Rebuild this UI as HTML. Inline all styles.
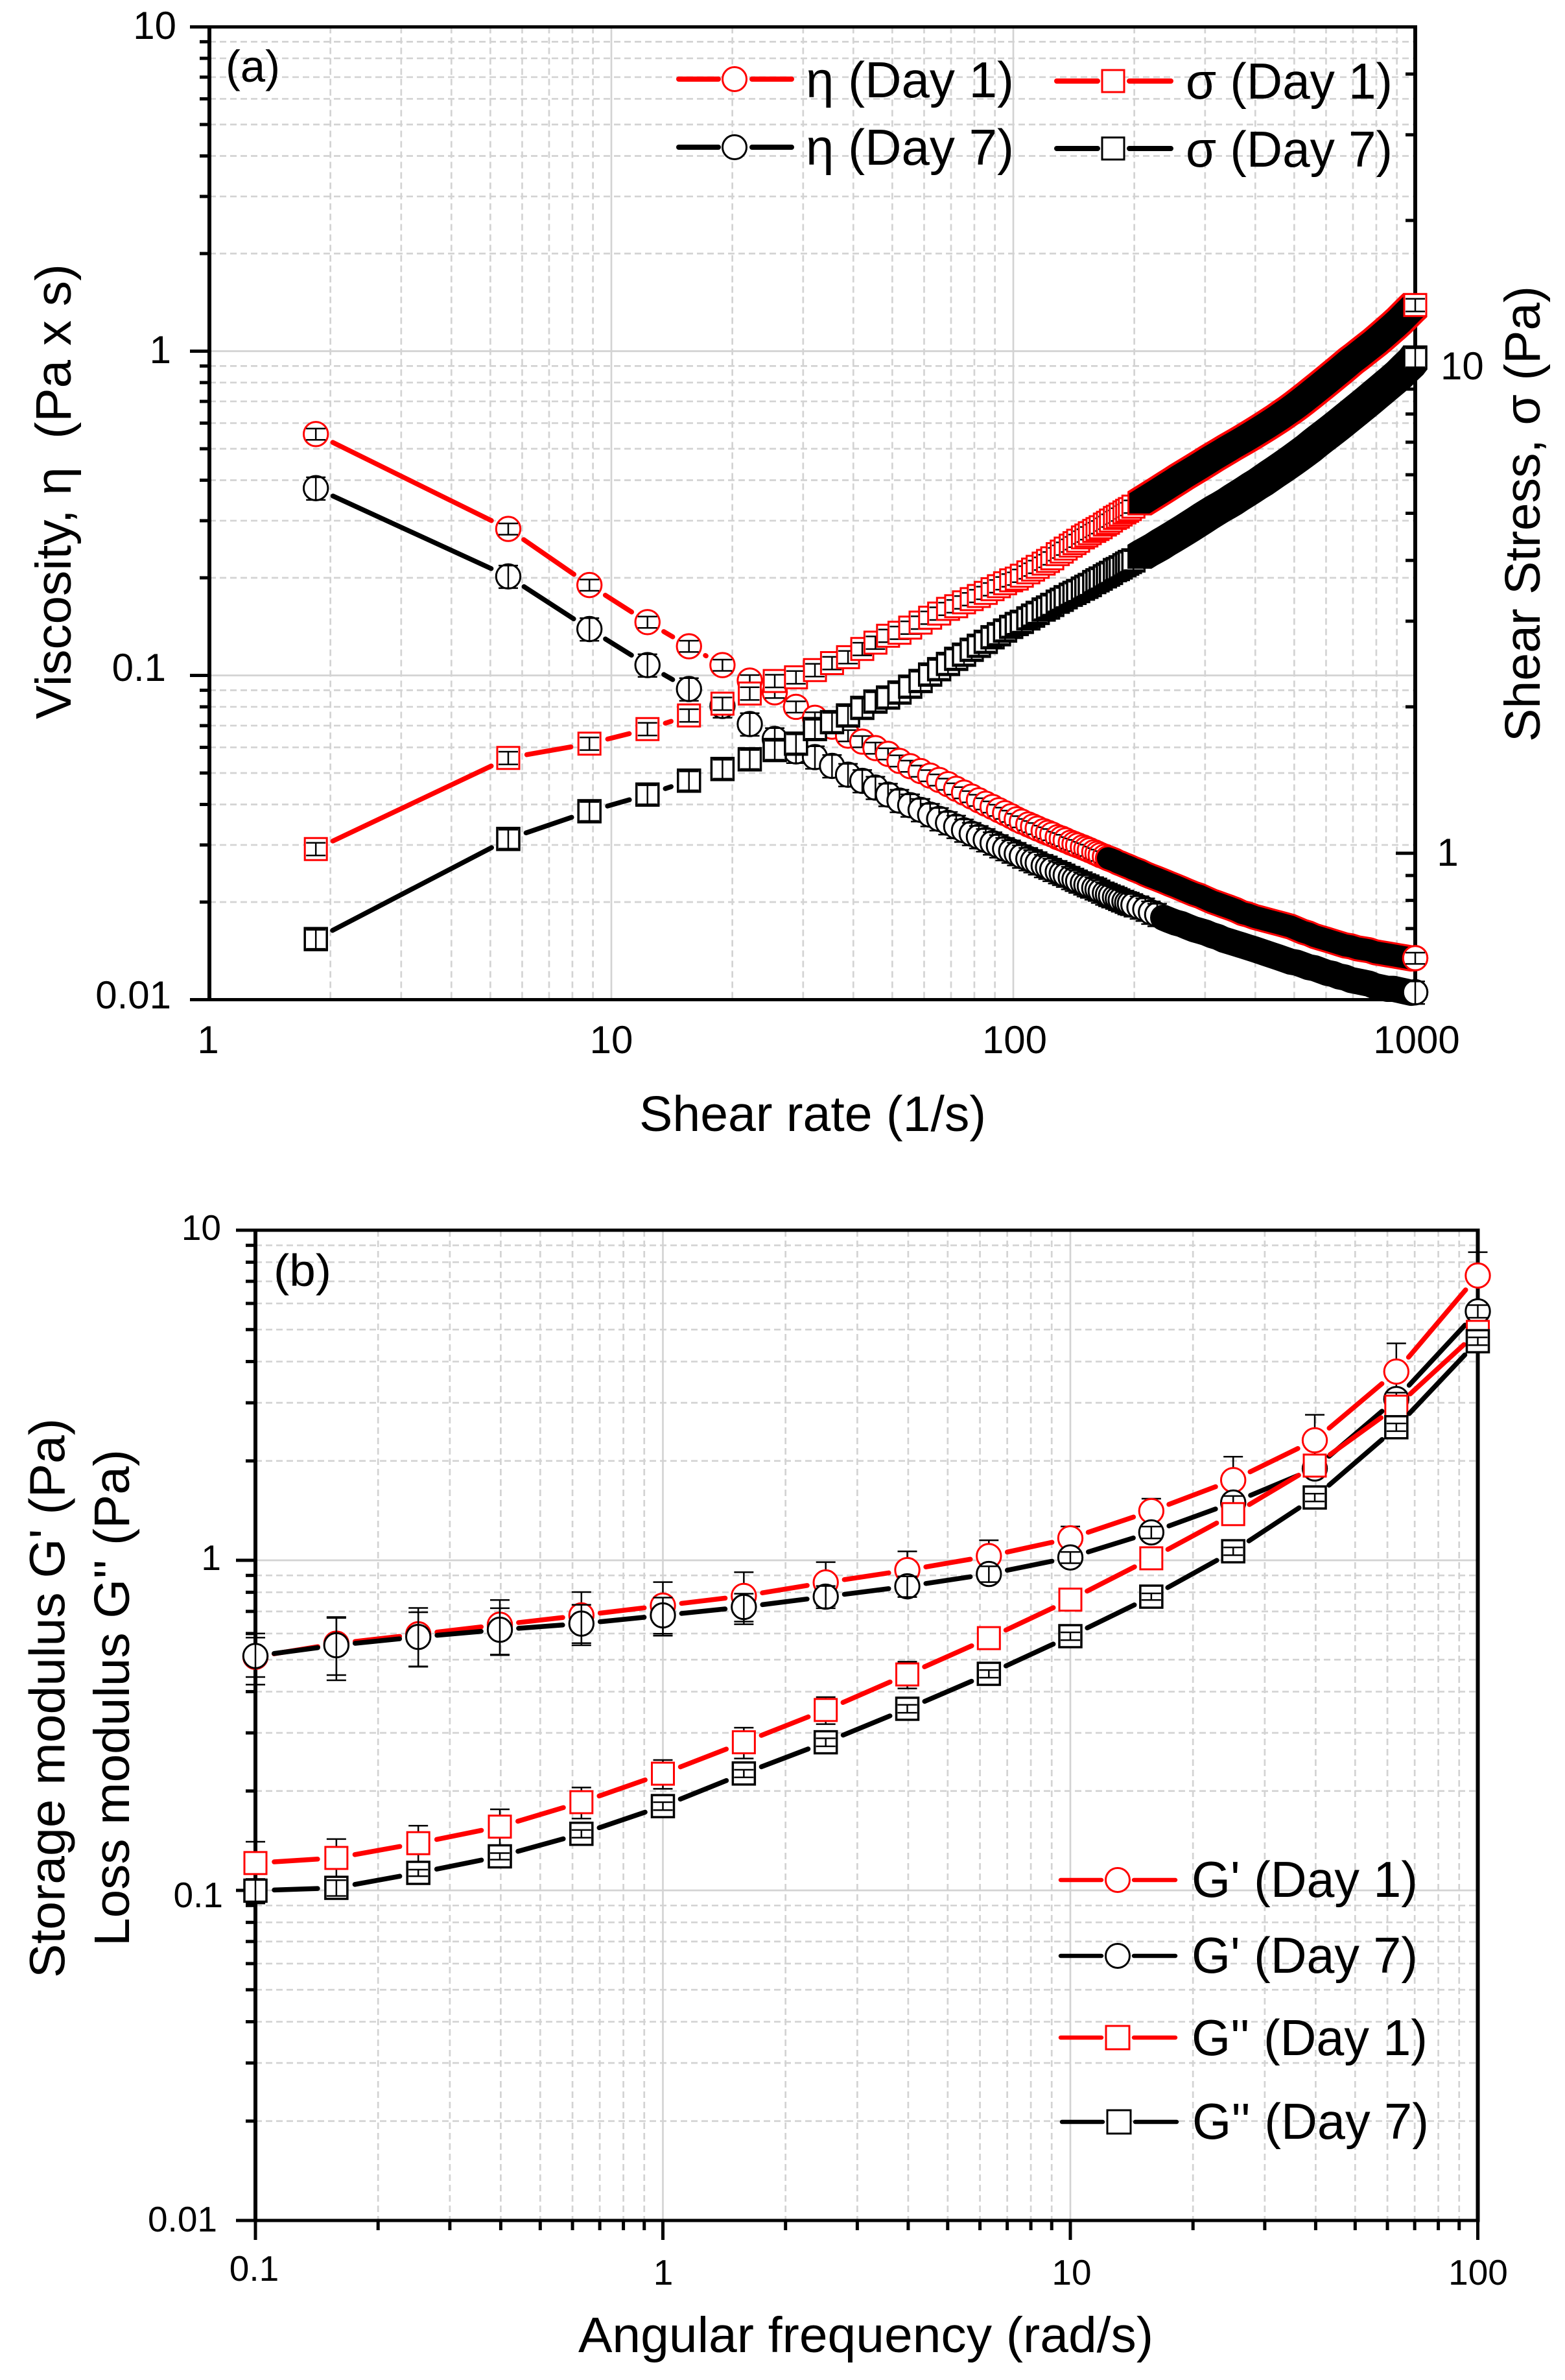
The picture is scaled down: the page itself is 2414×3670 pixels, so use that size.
<!DOCTYPE html>
<html lang="en">
<head>
<meta charset="utf-8">
<title>Rheology charts</title>
<style>
html,body{margin:0;padding:0;background:#fff}
svg{display:block}
text{font-family:"Liberation Sans",Arial,sans-serif;fill:#000}
</style>
</head>
<body>
<svg id="fig" xmlns="http://www.w3.org/2000/svg" width="2414" height="3670" viewBox="0 0 2414 3670">
  <rect x="0" y="0" width="2414" height="3670" fill="#fff"/>
  <g id="panelA">
    <g id="gridA"></g>
    <g id="axesA"></g>
    <g id="marksA"></g>
  </g>
  <g id="panelB">
    <g id="gridB"></g>
    <g id="axesB"></g>
    <g id="marksB"></g>
  </g>

  <!-- panel a text -->
  <g>
    <text x="272" y="60" font-size="60" text-anchor="end">10</text>
    <text x="264" y="560" font-size="60" text-anchor="end">1</text>
    <text x="256" y="1050" font-size="60" text-anchor="end">0.1</text>
    <text x="264" y="1555" font-size="60" text-anchor="end">0.01</text>
    <text x="321" y="1624" font-size="60" text-anchor="middle">1</text>
    <text x="943" y="1624" font-size="60" text-anchor="middle">10</text>
    <text x="1565" y="1624" font-size="60" text-anchor="middle">100</text>
    <text x="2185" y="1624" font-size="60" text-anchor="middle">1000</text>
    <text x="2222" y="585" font-size="60">10</text>
    <text x="2233" y="1335" font-size="60" text-anchor="middle">1</text>
    <text x="986" y="1744" font-size="77" textLength="535" lengthAdjust="spacingAndGlyphs">Shear rate (1/s)</text>
    <text transform="translate(109 1109) rotate(-90)" font-size="77" textLength="702" lengthAdjust="spacingAndGlyphs">Viscosity, η &#160;(Pa x s)</text>
    <text transform="translate(2375 1144) rotate(-90)" font-size="77" textLength="703" lengthAdjust="spacingAndGlyphs">Shear Stress, σ (Pa)</text>
    <text x="348" y="126" font-size="69" textLength="84" lengthAdjust="spacingAndGlyphs">(a)</text>
  </g>

  <!-- panel a legend -->
  <g>
    <g>
      <line x1="1047" x2="1108" y1="122" y2="122" stroke="#f00" stroke-width="8" stroke-linecap="round"/>
      <line x1="1160" x2="1221" y1="122" y2="122" stroke="#f00" stroke-width="8" stroke-linecap="round"/>
      <circle cx="1133" cy="122" r="18.5" fill="#fff" stroke="#f00" stroke-width="3"/>
      <text x="1243" y="150" font-size="78" textLength="321" lengthAdjust="spacingAndGlyphs">η (Day 1)</text>
    </g>
    <g>
      <line x1="1047" x2="1108" y1="227" y2="227" stroke="#000" stroke-width="8" stroke-linecap="round"/>
      <line x1="1160" x2="1221" y1="227" y2="227" stroke="#000" stroke-width="8" stroke-linecap="round"/>
      <circle cx="1133" cy="227" r="18.5" fill="#fff" stroke="#000" stroke-width="3"/>
      <text x="1243" y="254" font-size="78" textLength="321" lengthAdjust="spacingAndGlyphs">η (Day 7)</text>
    </g>
    <g>
      <line x1="1630" x2="1693" y1="125" y2="125" stroke="#f00" stroke-width="8" stroke-linecap="round"/>
      <line x1="1742" x2="1806" y1="125" y2="125" stroke="#f00" stroke-width="8" stroke-linecap="round"/>
      <rect x="1700" y="108" width="34" height="34" fill="#fff" stroke="#f00" stroke-width="3"/>
      <text x="1829" y="152" font-size="78" textLength="319" lengthAdjust="spacingAndGlyphs">σ (Day 1)</text>
    </g>
    <g>
      <line x1="1630" x2="1693" y1="229" y2="229" stroke="#000" stroke-width="8" stroke-linecap="round"/>
      <line x1="1742" x2="1806" y1="229" y2="229" stroke="#000" stroke-width="8" stroke-linecap="round"/>
      <rect x="1700" y="212" width="34" height="34" fill="#fff" stroke="#000" stroke-width="3"/>
      <text x="1829" y="257" font-size="78" textLength="319" lengthAdjust="spacingAndGlyphs">σ (Day 7)</text>
    </g>
  </g>

  <!-- panel b text -->
  <g>
    <text x="341" y="1912" font-size="55" text-anchor="end">10</text>
    <text x="341" y="2421" font-size="55" text-anchor="end">1</text>
    <text x="344" y="2941" font-size="55" text-anchor="end">0.1</text>
    <text x="335" y="3441" font-size="55" text-anchor="end">0.01</text>
    <text x="392" y="3517" font-size="55" text-anchor="middle">0.1</text>
    <text x="1023" y="3523" font-size="55" text-anchor="middle">1</text>
    <text x="1653" y="3523" font-size="55" text-anchor="middle">10</text>
    <text x="2280" y="3523" font-size="55" text-anchor="middle">100</text>
    <text x="892" y="3627" font-size="77" textLength="887" lengthAdjust="spacingAndGlyphs">Angular frequency (rad/s)</text>
    <text transform="translate(99.5 3050) rotate(-90)" font-size="77" textLength="863" lengthAdjust="spacingAndGlyphs">Storage modulus G' (Pa)</text>
    <text transform="translate(199 3001) rotate(-90)" font-size="77" textLength="766" lengthAdjust="spacingAndGlyphs">Loss modulus G'' (Pa)</text>
    <text x="422" y="1983" font-size="70" textLength="89" lengthAdjust="spacingAndGlyphs">(b)</text>
  </g>

  <!-- panel b legend -->
  <g>
    <g>
      <line x1="1636" x2="1699" y1="2899" y2="2899" stroke="#f00" stroke-width="6.5" stroke-linecap="round"/>
      <line x1="1749" x2="1813" y1="2899" y2="2899" stroke="#f00" stroke-width="6.5" stroke-linecap="round"/>
      <circle cx="1724" cy="2899" r="18.5" fill="#fff" stroke="#f00" stroke-width="3"/>
      <text x="1838" y="2925" font-size="78" textLength="349" lengthAdjust="spacingAndGlyphs">G' (Day 1)</text>
    </g>
    <g>
      <line x1="1636" x2="1699" y1="3016" y2="3016" stroke="#000" stroke-width="6.5" stroke-linecap="round"/>
      <line x1="1749" x2="1813" y1="3016" y2="3016" stroke="#000" stroke-width="6.5" stroke-linecap="round"/>
      <circle cx="1724" cy="3016" r="18.5" fill="#fff" stroke="#000" stroke-width="3"/>
      <text x="1838" y="3042" font-size="78" textLength="349" lengthAdjust="spacingAndGlyphs">G' (Day 7)</text>
    </g>
    <g>
      <line x1="1636" x2="1699" y1="3142" y2="3142" stroke="#f00" stroke-width="6.5" stroke-linecap="round"/>
      <line x1="1749" x2="1813" y1="3142" y2="3142" stroke="#f00" stroke-width="6.5" stroke-linecap="round"/>
      <rect x="1706" y="3124" width="36" height="36" fill="#fff" stroke="#f00" stroke-width="3"/>
      <text x="1838" y="3169" font-size="78" textLength="364" lengthAdjust="spacingAndGlyphs">G'' (Day 1)</text>
    </g>
    <g>
      <line x1="1638" x2="1701" y1="3272" y2="3272" stroke="#000" stroke-width="6.5" stroke-linecap="round"/>
      <line x1="1751" x2="1815" y1="3272" y2="3272" stroke="#000" stroke-width="6.5" stroke-linecap="round"/>
      <rect x="1708" y="3254" width="36" height="36" fill="#fff" stroke="#000" stroke-width="3"/>
      <text x="1839" y="3298" font-size="78" textLength="365" lengthAdjust="spacingAndGlyphs">G'' (Day 7)</text>
    </g>
  </g>
</svg>

<script>
// ---- Panel (a) data: shear rate (1/s), viscosity (Pa s), shear stress (Pa) ----
const shearRate = [
1.84,5.54,8.82,12.3,15.6,18.9,22.1,25.5,28.8,32.1,
35.4,38.8,42.1,45.4,48.8,52.1,55.4,58.8,62.1,65.4,
68.8,72.1,75.4,78.8,82.1,85.4,88.8,92.1,95.4,98.8,
102,105,109,112,115,119,122,125,129,132,
135,139,142,145,149,152,155,159,162,165,
169,172,175,179,182,185,189,192,195,199,
206,213,220,228,236,244,253,262,271,281,
291,301,312,323,334,346,358,371,384,398,
412,426,441,457,473,490,507,525,543,562,
582,603,624,646,669,692,717,742,768,795,
823,852,882,913,945,978,1000];
const etaDay1 = [
.555,.283,.19,.146,.123,.1076,.0964,.0887,.08,.074,
.0695,.0652,.0625,.0597,.0573,.0545,.0525,.0507,.0491,.0476,
.0462,.0447,.0435,.0423,.0412,.0402,.0393,.0384,.0376,.0368,
.036,.0354,.0347,.0342,.0337,.0331,.0327,.0323,.0317,.0314,
.031,.0305,.0302,.0299,.0295,.0292,.0289,.0285,.0282,.0279,
.0276,.0273,.0271,.0268,.0265,.0263,.026,.0258,.0256,.0253,
.0249,.0244,.024,.0236,.0232,.0228,.0224,.022,.0216,.0212,
.0209,.0205,.0201,.0198,.0195,.0192,.0189,.0185,.0183,.018,
.0178,.0176,.0174,.0172,.017,.0168,.0165,.0162,.016,.0157,
.0155,.0153,.0151,.0149,.0147,.0146,.0144,.0143,.0142,.014,
.0139,.0138,.0137,.0136,.0135,.0134,.01343];
const etaDay7 = [
.378,.202,.139,.1076,.0908,.0805,.0708,.0637,.0583,.056,
.0526,.0494,.0473,.0451,.0429,.0411,.0398,.0385,.0372,.0361,
.0351,.0342,.0333,.0325,.0318,.0311,.0304,.0298,.0292,.0287,
.0282,.0277,.0272,.0268,.0264,.0259,.0256,.0252,.0248,.0245,
.0242,.0238,.0235,.0232,.0229,.0226,.0224,.0221,.0219,.0216,
.0213,.0211,.0209,.0207,.0205,.0203,.0201,.0199,.0198,.0196,
.0193,.019,.0186,.0183,.0179,.0176,.0173,.0171,.0168,.0165,
.0163,.0161,.0158,.0156,.0153,.0151,.0149,.0147,.0145,.0143,
.0141,.0139,.0137,.0135,.0133,.0131,.013,.0128,.0126,.0125,
.0123,.0121,.012,.0118,.0117,.0115,.0114,.0113,.0112,.011,
.0109,.0108,.0108,.0107,.0106,.0105,.01054];
const sigmaDay1 = [
1.02,1.57,1.68,1.8,1.92,2.03,2.13,2.26,2.3,2.38,
2.46,2.53,2.63,2.71,2.8,2.84,2.91,2.98,3.05,3.11,
3.18,3.22,3.28,3.33,3.38,3.43,3.49,3.54,3.59,3.64,
3.67,3.72,3.78,3.83,3.88,3.94,3.99,4.04,4.12,4.17,
4.23,4.29,4.34,4.39,4.46,4.5,4.55,4.6,4.64,4.68,
4.74,4.78,4.83,4.89,4.92,4.97,5.02,5.06,5.1,5.16,
5.24,5.33,5.42,5.52,5.62,5.72,5.83,5.94,6.04,6.15,
6.26,6.37,6.49,6.6,6.71,6.83,6.94,7.06,7.18,7.31,
7.44,7.57,7.71,7.86,8.02,8.18,8.35,8.54,8.73,8.93,
9.14,9.36,9.58,9.81,10.05,10.29,10.52,10.76,11,11.25,
11.53,11.82,12.12,12.44,12.8,13.17,13.4];
const sigmaDay7 = [
.666,1.07,1.22,1.32,1.41,1.49,1.56,1.63,1.68,1.8,
1.86,1.92,1.99,2.05,2.09,2.14,2.2,2.26,2.33,2.39,
2.45,2.51,2.56,2.62,2.67,2.72,2.78,2.82,2.87,2.92,
2.96,2.99,3.04,3.08,3.12,3.17,3.2,3.24,3.29,3.32,
3.36,3.4,3.43,3.46,3.5,3.53,3.56,3.61,3.64,3.67,
3.71,3.74,3.77,3.82,3.84,3.87,3.91,3.94,3.97,4,
4.07,4.14,4.2,4.27,4.35,4.42,4.5,4.58,4.66,4.75,
4.84,4.93,5.02,5.11,5.19,5.28,5.38,5.48,5.58,5.69,
5.79,5.9,6.02,6.14,6.26,6.39,6.52,6.66,6.8,6.96,
7.12,7.28,7.44,7.61,7.79,7.97,8.16,8.35,8.55,8.76,
8.97,9.19,9.41,9.65,9.93,10.2,10.45];
const etaDay1ErrFraction = 0.04;
const etaDay7ErrFraction = 0.08;
const sigmaDay1ErrFraction = 0.03;
const sigmaDay7ErrFraction = 0.045;

// ---- Panel (b) data: angular frequency (rad/s), moduli (Pa) ----
const angularFrequency = [0.1,0.158,0.251,0.398,0.631,1,1.58,2.51,3.98,6.31,10,15.8,25.1,39.8,63.1,100];
const storageDay1 = [.51,.559,.597,.638,.681,.729,.78,.857,.934,1.03,1.166,1.41,1.75,2.31,3.73,7.29];
const storageDay7 = [.513,.553,.586,.616,.643,.681,.722,.776,.834,.909,1.02,1.215,1.496,1.897,3.08,5.68];
const lossDay1 = [.121,.1254,.139,.156,.185,.2257,.281,.352,.451,.581,.76,1.014,1.38,1.936,2.92,4.92];
const lossDay7 = [.0998,.1018,.113,.1268,.1484,.18,.226,.281,.355,.453,.589,.776,1.065,1.55,2.53,4.61];
const storageDay1Err = [.09,.11,.12,.12,.12,.13,.14,.13,.13,.12,.1,.127,.31,.45,.81,1.29];
const storageDay7Err = [.07,.12,.11,.1,.09,.09,.07,.06,.06,.05,.04,.05,.07,.09,.14,.25];
const lossDay1Err = [.0194,.0176,.018,.02,.02,.0226,.03,.033,.042,.04,.05,.06,.08,.1,.1,.15];
const lossDay7Err = [.0085,.0056,.0026,.0029,.004,.005,.006,.0078,.0098,.012,.016,.018,.029,.042,.068,.125];

// ---- axis functions ----
const xA = v => 323 + 620 * Math.log10(v);
const yLeftA = v => 541.5 - 500 * Math.log10(v);
const yRightA = v => 1315.7 - 750 * Math.log10(v);
const xB = v => 394 + 628.5 * (Math.log10(v) + 1);
const yB = v => 2406 - 509 * Math.log10(v);

const NS = 'http://www.w3.org/2000/svg';
const GRID = '#d3d3d3';

function gridLine(parent, x1, y1, x2, y2, major) {
  const el = document.createElementNS(NS, 'line');
  
  
  el.setAttribute('x1', x1); el.setAttribute('y1', y1);
  el.setAttribute('x2', x2); el.setAttribute('y2', y2);
  el.setAttribute('stroke', GRID);
  el.setAttribute('stroke-width', 2.7);
  if (!major) el.setAttribute('stroke-dasharray', '10 6');
  parent.appendChild(el);
}
function axisLine(parent, x1, y1, x2, y2, w) {
  const el = document.createElementNS(NS, 'line');
  
  
  el.setAttribute('x1', x1); el.setAttribute('y1', y1);
  el.setAttribute('x2', x2); el.setAttribute('y2', y2);
  el.setAttribute('stroke', '#000');
  el.setAttribute('stroke-width', w);
  parent.appendChild(el);
}
// every decade step between lo and hi: visits 1..9 x 10^k
function logSteps(lo, hi, fn) {
  for (let k = Math.round(Math.log10(lo)) - 1; k <= Math.round(Math.log10(hi)); k++) {
    for (let m = 1; m <= 9; m++) {
      const v = m * Math.pow(10, k);
      if (v >= lo * 0.999 && v <= hi * 1.001) fn(v, m === 1);
    }
  }
}

function segment(parent, s, p, q) {
  const dx = q[0] - p[0], dy = q[1] - p[1], d = Math.hypot(dx, dy), gap = 29;
  if (d <= gap * 2 + 1) return;
  const el = document.createElementNS(NS, 'line');
  
  
  el.setAttribute('x1', p[0] + dx / d * gap); el.setAttribute('y1', p[1] + dy / d * gap);
  el.setAttribute('x2', q[0] - dx / d * gap); el.setAttribute('y2', q[1] - dy / d * gap);
  el.setAttribute('stroke', s.color);
  el.setAttribute('stroke-width', 7.5);
  el.setAttribute('stroke-linecap', 'round');
  parent.appendChild(el);
}
function marker(parent, s, p) {
  const isCircle = s.shape === 'circle';
  const el = document.createElementNS(NS, isCircle ? 'circle' : 'rect');
  
  
  if (isCircle) {
    el.setAttribute('cx', p[0]); el.setAttribute('cy', p[1]);
    el.setAttribute('r', 18.7);
  } else {
    el.setAttribute('x', p[0] - 17); el.setAttribute('y', p[1] - 17);
    el.setAttribute('width', 34); el.setAttribute('height', 34);
  }
  el.setAttribute('fill', '#fff');
  el.setAttribute('stroke', s.color);
  el.setAttribute('stroke-width', s.shape === 'square' && s.color === '#000' ? 3.5 : 3);
  parent.appendChild(el);
}
function errorBar(parent, s, px, yTop, yBot) {
  const stem = document.createElementNS(NS, 'path');
  
  
  stem.setAttribute('d', 'M' + (px - 15) + ' ' + yTop + 'H' + (px + 15) + 'M' + px + ' ' + yTop + 'V' + yBot + 'M' + (px - 15) + ' ' + yBot + 'H' + (px + 15));
  stem.setAttribute('fill', 'none');
  stem.setAttribute('stroke', '#000');
  stem.setAttribute('stroke-width', 2.5);
  parent.appendChild(stem);
}
// overplotted stretch: hundreds of piled markers read as a solid band with a coloured rim
function band(parent, s, run, color, halfSize, role) {
  if (run.length < 2) return;
  if (s.shape === 'circle') {
    const el = document.createElementNS(NS, 'polyline');
    
    
    el.setAttribute('points', run.map(p => p[0] + ',' + p[1]).join(' '));
    el.setAttribute('fill', 'none');
    el.setAttribute('stroke', color);
    el.setAttribute('stroke-width', halfSize * 2);
    el.setAttribute('stroke-linecap', 'round');
    el.setAttribute('stroke-linejoin', 'round');
    parent.appendChild(el);
  } else {
    const h = halfSize;
    let d = '';
    for (let i = 0; i + 1 < run.length; i++) {
      const p = run[i], q = run[i + 1];
      d += 'M' + (p[0] - h) + ' ' + (p[1] - h) + 'L' + (q[0] - h) + ' ' + (q[1] - h) + 'L' + (q[0] + h) + ' ' + (q[1] - h) +
           'L' + (q[0] + h) + ' ' + (q[1] + h) + 'L' + (p[0] + h) + ' ' + (p[1] + h) + 'L' + (p[0] - h) + ' ' + (p[1] + h) + 'Z';
    }
    const el = document.createElementNS(NS, 'path');
    
    
    el.setAttribute('d', d);
    el.setAttribute('fill', color);
    parent.appendChild(el);
  }
}

function drawSeries(parent, s) {
  const g = document.createElementNS(NS, 'g');
  
  
  parent.appendChild(g);
  const pts = s.xs.map((x, i) => [s.xScale(x), s.yScale(s.ys[i])]);
  for (let i = 0; i + 1 < pts.length; i++) segment(g, s, pts[i], pts[i + 1]);
  const err = i => (s.errs ? s.errs[i] : s.ys[i] * s.errFraction);
  const bar = i => errorBar(g, s, pts[i][0], s.yScale(s.ys[i] + err(i)), s.yScale(s.ys[i] - err(i)));
  const last = pts.length - 1;
  const solid = i => s.solidFrom !== undefined && s.xs[i] >= s.solidFrom;
  pts.forEach((p, i) => {
    if (solid(i) || i === last) return;
    if (s.barUnder) bar(i);
    marker(g, s, p);
    if (!s.barUnder) bar(i);
  });
  const run = pts.filter((p, i) => solid(i));
  const isCircle = s.shape === 'circle';
  band(g, s, run, s.color, isCircle ? 20.2 : 18.5, '-band-rim');
  band(g, s, run, '#000', isCircle ? 17 : 15.5, '-band-core');
  if (s.barUnder) bar(last);
  marker(g, s, pts[last]);
  if (!s.barUnder) bar(last);
}

// ---- panel a ----
(function () {
  const grid = document.getElementById('gridA');
  const axes = document.getElementById('axesA');
  const L = xA(1), R = xA(1000), T = yLeftA(10), B = yLeftA(0.01);
  logSteps(1, 1000, (v, maj) => { if (v > 1 && v < 1000) gridLine(grid, xA(v), T, xA(v), B, maj); });
  logSteps(0.01, 10, (v, maj) => { if (v > 0.01 && v < 10) gridLine(grid, L, yLeftA(v), R, yLeftA(v), maj); });
  logSteps(0.01, 10, (v, maj) => axisLine(axes, L - (maj ? 30 : 15), yLeftA(v), L, yLeftA(v), 5));
  logSteps(0.5, 50, (v, maj) => { if (v < 50 && v > 0.5) axisLine(axes, R - (maj ? 30 : 15), yRightA(v), R, yRightA(v), 5); });
  axisLine(axes, L, T - 2.5, L, B + 2.5, 6);
  axisLine(axes, R, T - 2.5, R, B + 2.5, 6);
  axisLine(axes, L, T, R, T, 5);
  axisLine(axes, L, B, R, B, 5);
  const marks = document.getElementById('marksA');
  drawSeries(marks, { name: 'viscosity-day-1', color: '#f00', shape: 'circle', xs: shearRate, ys: etaDay1, errFraction: etaDay1ErrFraction, xScale: xA, yScale: yLeftA, solidFrom: 170 });
  drawSeries(marks, { name: 'viscosity-day-7', color: '#000', shape: 'circle', xs: shearRate, ys: etaDay7, errFraction: etaDay7ErrFraction, xScale: xA, yScale: yLeftA, solidFrom: 230 });
  drawSeries(marks, { name: 'stress-day-1', color: '#f00', shape: 'square', xs: shearRate, ys: sigmaDay1, errFraction: sigmaDay1ErrFraction, xScale: xA, yScale: yRightA, solidFrom: 200 });
  drawSeries(marks, { name: 'stress-day-7', color: '#000', shape: 'square', xs: shearRate, ys: sigmaDay7, errFraction: sigmaDay7ErrFraction, xScale: xA, yScale: yRightA, solidFrom: 200 });
})();

// ---- panel b ----
(function () {
  const grid = document.getElementById('gridB');
  const axes = document.getElementById('axesB');
  const L = xB(0.1), R = xB(100), T = yB(10), B = yB(0.01);
  logSteps(0.1, 100, (v, maj) => { if (v > 0.1 && v < 100) gridLine(grid, xB(v), T, xB(v), B, maj); });
  logSteps(0.01, 10, (v, maj) => { if (v > 0.01 && v < 10) gridLine(grid, L, yB(v), R, yB(v), maj); });
  logSteps(0.01, 10, (v, maj) => axisLine(axes, L - (maj ? 30 : 15), yB(v), L, yB(v), 5));
  logSteps(0.1, 100, (v, maj) => axisLine(axes, xB(v), B, xB(v), B + (maj ? 30 : 15), 5));
  axisLine(axes, L, T - 2.5, L, B + 2.5, 6);
  axisLine(axes, R, T - 2.5, R, B + 2.5, 6);
  axisLine(axes, L, T, R, T, 5);
  axisLine(axes, L, B, R, B, 5);
  const marks = document.getElementById('marksB');
  drawSeries(marks, { name: 'storage-modulus-day-1', color: '#f00', shape: 'circle', xs: angularFrequency, ys: storageDay1, errs: storageDay1Err, xScale: xB, yScale: yB, barUnder: true });
  drawSeries(marks, { name: 'storage-modulus-day-7', color: '#000', shape: 'circle', xs: angularFrequency, ys: storageDay7, errs: storageDay7Err, xScale: xB, yScale: yB });
  drawSeries(marks, { name: 'loss-modulus-day-1', color: '#f00', shape: 'square', xs: angularFrequency, ys: lossDay1, errs: lossDay1Err, xScale: xB, yScale: yB, barUnder: true });
  drawSeries(marks, { name: 'loss-modulus-day-7', color: '#000', shape: 'square', xs: angularFrequency, ys: lossDay7, errs: lossDay7Err, xScale: xB, yScale: yB });
})();
</script>
</body>
</html>
